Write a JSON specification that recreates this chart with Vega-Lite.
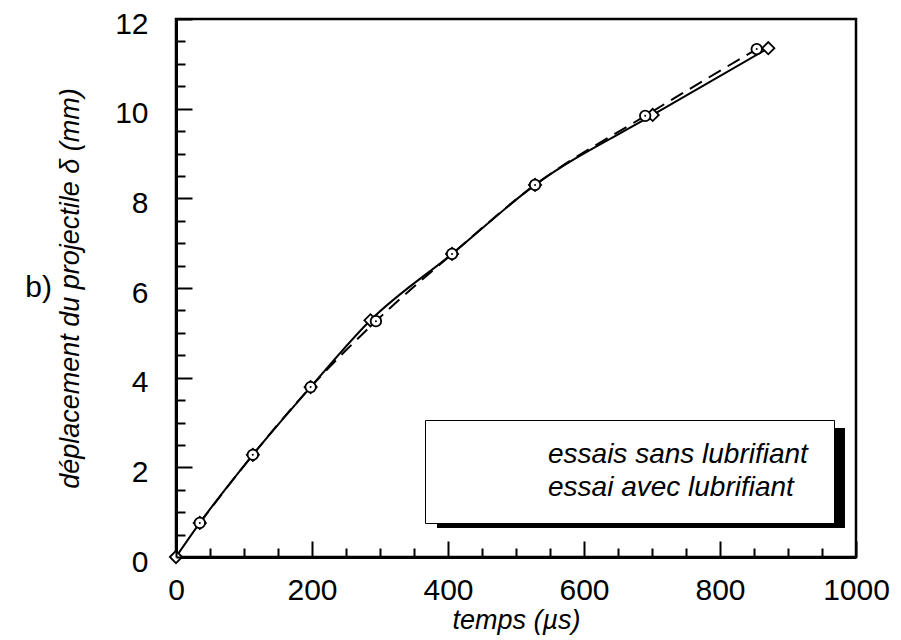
{
  "$schema": "https://vega.github.io/schema/vega-lite/v6.json",
  "width": 680,
  "height": 538,
  "autosize": {"type": "none"},
  "padding": {"left": 176, "top": 19, "right": 45, "bottom": 83},
  "background": "white",
  "title": {"text": "b)", "orient": "left", "anchor": "middle", "angle": 0, "align": "right", "baseline": "middle", "font": "Liberation Sans", "fontSize": 30, "fontWeight": "normal", "color": "black", "offset": -22},
  "data": {"values": [
    {"t": 0, "d": 0, "serie": "essais sans lubrifiant"},
    {"t": 35, "d": 0.76, "serie": "essais sans lubrifiant"},
    {"t": 113, "d": 2.28, "serie": "essais sans lubrifiant"},
    {"t": 198, "d": 3.79, "serie": "essais sans lubrifiant"},
    {"t": 286, "d": 5.28, "serie": "essais sans lubrifiant"},
    {"t": 406, "d": 6.76, "serie": "essais sans lubrifiant"},
    {"t": 528, "d": 8.3, "serie": "essais sans lubrifiant"},
    {"t": 701, "d": 9.86, "serie": "essais sans lubrifiant"},
    {"t": 871, "d": 11.35, "serie": "essais sans lubrifiant"},
    {"t": 35, "d": 0.76, "serie": "essai avec lubrifiant"},
    {"t": 113, "d": 2.28, "serie": "essai avec lubrifiant"},
    {"t": 198, "d": 3.79, "serie": "essai avec lubrifiant"},
    {"t": 294, "d": 5.26, "serie": "essai avec lubrifiant"},
    {"t": 406, "d": 6.76, "serie": "essai avec lubrifiant"},
    {"t": 528, "d": 8.3, "serie": "essai avec lubrifiant"},
    {"t": 690, "d": 9.84, "serie": "essai avec lubrifiant"},
    {"t": 854, "d": 11.33, "serie": "essai avec lubrifiant"}
  ]},
  "layer": [
    {
      "data": {"values": [{"k": 1}]},
      "mark": {"type": "rect", "fill": "black"},
      "encoding": {
        "x": {"datum": 383.8, "type": "quantitative", "axis": null},
        "x2": {"datum": 983.8},
        "y": {"datum": 2.877, "type": "quantitative", "axis": null},
        "y2": {"datum": 0.647}
      }
    },
    {
      "transform": [{"filter": "datum.serie === 'essais sans lubrifiant'"}],
      "mark": {"type": "line", "color": "black", "strokeWidth": 2, "interpolate": "monotone"},
      "encoding": {
        "x": {"field": "t", "type": "quantitative", "scale": {"domain": [0, 1000], "nice": false},
          "axis": {"orient": "bottom", "values": [0, 200, 400, 600, 800, 1000], "format": "d", "ticks": false, "domain": true, "domainWidth": 3, "domainColor": "black", "grid": false,
            "labelFont": "Liberation Sans", "labelFontSize": 30, "labelColor": "black", "labelPadding": 18, "labelFlush": false, "labelOverlap": false,
            "title": "temps (µs)", "titleFont": "Liberation Sans", "titleFontSize": 27, "titleFontStyle": "italic", "titleFontWeight": "normal", "titleColor": "black", "titlePadding": 2}},
        "y": {"field": "d", "type": "quantitative", "scale": {"domain": [0, 12], "nice": false},
          "axis": {"orient": "left", "values": [0, 2, 4, 6, 8, 10, 12], "format": "d", "ticks": false, "domain": true, "domainWidth": 3, "domainColor": "black", "grid": false,
            "labelFont": "Liberation Sans", "labelFontSize": 30, "labelColor": "black", "labelPadding": 28, "labelOffset": 5, "labelOverlap": false,
            "title": "déplacement du projectile δ (mm)", "titleFont": "Liberation Sans", "titleFontSize": 27, "titleFontStyle": "italic", "titleFontWeight": "normal", "titleColor": "black", "titlePadding": 30}}
      }
    },
    {
      "transform": [{"filter": "datum.serie === 'essai avec lubrifiant'"}],
      "mark": {"type": "line", "color": "black", "strokeWidth": 2, "strokeDash": [14, 8], "interpolate": "monotone"},
      "encoding": {
        "x": {"field": "t", "type": "quantitative",
          "axis": {"orient": "top", "offset": -538, "zindex": 2, "values": [0, 200, 400, 600, 800, 1000], "ticks": true, "tickSize": 16, "tickWidth": 2, "tickColor": "black", "labels": false, "domain": false, "grid": false, "title": null}},
        "y": {"field": "d", "type": "quantitative",
          "axis": {"orient": "right", "offset": -680, "zindex": 2, "values": [0, 2, 4, 6, 8, 10, 12], "ticks": true, "tickSize": 16, "tickWidth": 2, "tickColor": "black", "labels": false, "domain": false, "grid": false, "title": null}}
      }
    },
    {
      "transform": [{"filter": "datum.serie === 'essais sans lubrifiant'"}],
      "mark": {"type": "point", "shape": "diamond", "fill": "white", "stroke": "black", "strokeWidth": 1.8, "opacity": 1, "size": 150},
      "encoding": {
        "x": {"field": "t", "type": "quantitative",
          "axis": {"orient": "top", "offset": -538, "zindex": 2, "values": [50, 100, 150, 250, 300, 350, 450, 500, 550, 650, 700, 750, 850, 900, 950], "ticks": true, "tickSize": 9, "tickWidth": 2, "tickColor": "black", "labels": false, "domain": false, "grid": false, "title": null}},
        "y": {"field": "d", "type": "quantitative",
          "axis": {"orient": "right", "offset": -680, "zindex": 2, "values": [0.5, 1, 1.5, 2.5, 3, 3.5, 4.5, 5, 5.5, 6.5, 7, 7.5, 8.5, 9, 9.5, 10.5, 11, 11.5], "ticks": true, "tickSize": 9, "tickWidth": 2, "tickColor": "black", "labels": false, "domain": false, "grid": false, "title": null}}
      }
    },
    {
      "transform": [{"filter": "datum.serie === 'essai avec lubrifiant'"}],
      "mark": {"type": "point", "shape": "circle", "fill": "white", "stroke": "black", "strokeWidth": 1.8, "opacity": 1, "size": 110},
      "encoding": {
        "x": {"field": "t", "type": "quantitative", "axis": null},
        "y": {"field": "d", "type": "quantitative", "axis": null}
      }
    },
    {
      "transform": [{"filter": "datum.serie === 'essai avec lubrifiant'"}],
      "mark": {"type": "point", "shape": "circle", "filled": true, "color": "black", "opacity": 1, "size": 4},
      "encoding": {
        "x": {"field": "t", "type": "quantitative", "axis": null},
        "y": {"field": "d", "type": "quantitative", "axis": null}
      }
    },
    {
      "transform": [{"filter": "datum.t < 0"}],
      "mark": {"type": "point", "fill": "white", "stroke": "black", "strokeWidth": 1.5, "opacity": 1},
      "encoding": {
        "x": {"field": "t", "type": "quantitative", "axis": null},
        "y": {"field": "d", "type": "quantitative", "axis": null},
        "shape": {"field": "serie", "type": "nominal",
          "scale": {"domain": ["essais sans lubrifiant", "essai avec lubrifiant"],
            "range": ["M-0.7,0L3.0,0M3.0,0L4.0,-0.8L5.0,0L4.0,0.8ZM5.0,0L8.7,0M35.0,0", "M-1.2,0L0.2,0M1.85,0L2.15,0M2.15,0C2.15,-0.304 2.396,-0.55 2.7,-0.55C3.004,-0.55 3.25,-0.304 3.25,0C3.25,0.304 3.004,0.55 2.7,0.55C2.396,0.55 2.15,0.304 2.15,0ZM2.64,-0.06L2.76,-0.06L2.76,0.06L2.64,0.06ZM4.3,0L5.5,0"]},
          "legend": {"title": null, "orient": "none", "legendX": 249, "legendY": 401, "padding": 21, "strokeColor": "black", "fillColor": "white",
            "symbolSize": 400, "symbolStrokeWidth": 1.5, "symbolStrokeColor": "black", "symbolFillColor": "white", "symbolOpacity": 1,
            "labelFont": "Liberation Sans", "labelFontStyle": "italic", "labelFontSize": 28, "labelColor": "black", "labelOffset": 74, "labelLimit": 600, "rowPadding": 5}}
      }
    }
  ],
  "resolve": {"axis": {"x": "independent", "y": "independent"}},
  "config": {
    "view": {"stroke": "black", "strokeWidth": 2.5},
    "font": "Liberation Sans"
  }
}
